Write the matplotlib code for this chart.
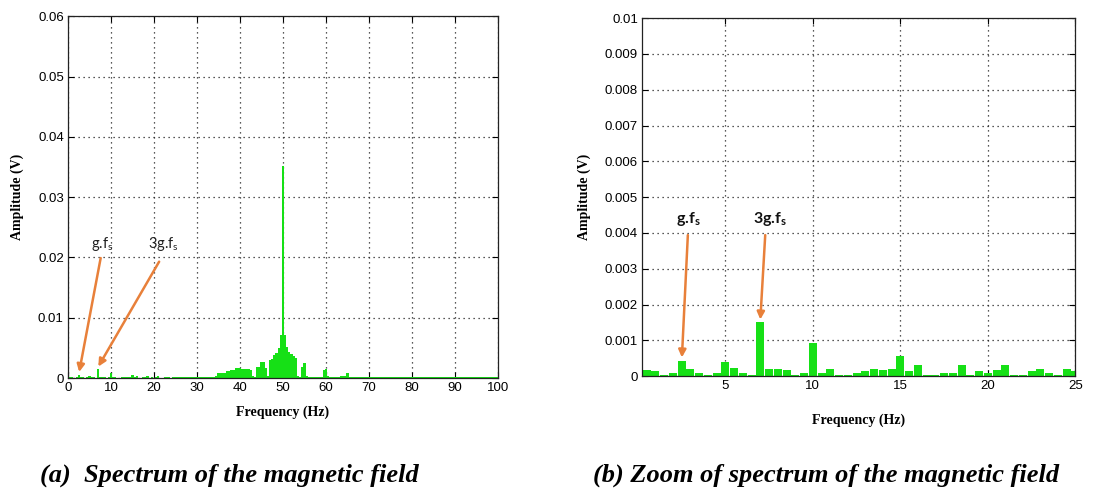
import numpy as np
import matplotlib.pyplot as plt

# spectrum bins (0.5 Hz resolution)
freq_low = np.arange(0.5, 25.01, 0.5)
amp_low = [0.00018, 0.00014, 0.00002, 0.00010, 0.00043, 0.00019, 0.00010, 0.00002, 0.00010, 0.00040,
           0.00022, 0.00010, 0.00002, 0.00152, 0.00019, 0.00021, 0.00017, 0.00002, 0.00010, 0.00092,
           0.00010, 0.00019, 0.00002, 0.00002, 0.00010, 0.00013, 0.00021, 0.00016, 0.00019, 0.00055,
           0.00014, 0.00030, 0.00002, 0.00002, 0.00010, 0.00010, 0.00030, 0.00002, 0.00013, 0.00008,
           0.00016, 0.00030, 0.00002, 0.00002, 0.00014, 0.00021, 0.00010, 0.00002, 0.00019, 0.00014]

freq_high = np.arange(25.5, 100.01, 0.5)
amp_high = [0.0002, 0.0001, 0.0001, 0.0002, 0.0001, 0.0001, 0.0002, 0.0001, 0.0002, 0.0001,
            0.0002, 0.0002, 0.0001, 0.0002, 0.0001, 0.0001, 0.0002, 0.0002, 0.0003, 0.0008,
            0.0008, 0.0009, 0.0009, 0.0012, 0.0012, 0.0014, 0.0014, 0.0017, 0.0016, 0.0017,
            0.0015, 0.0015, 0.0015, 0.0015, 0.0014, 0.0003, 0.0002, 0.0019, 0.0019, 0.0026,
            0.0026, 0.0017, 0.0003, 0.0030, 0.0031, 0.0039, 0.0041, 0.0050, 0.0071, 0.0352,
            0.0071, 0.0052, 0.0044, 0.0040, 0.0036, 0.0033, 0.0003, 0.0002, 0.0019, 0.0025,
            0.0003, 0.0001, 0.0002, 0.0002, 0.0001, 0.0002, 0.0001, 0.0002, 0.0014, 0.0015,
            0.0003, 0.0002, 0.0001, 0.0002, 0.0001, 0.0002, 0.0003, 0.0003, 0.0004, 0.0008,
            0.0002, 0.0001, 0.0001, 0.0002, 0.0001, 0.0002, 0.0001, 0.0001, 0.0002, 0.0001,
            0.0001, 0.0002, 0.0001, 0.0002, 0.0001, 0.0002, 0.0001, 0.0001, 0.0002, 0.0002,
            0.0001, 0.0002, 0.0001, 0.0001, 0.0002, 0.0001, 0.0002, 0.0002, 0.0001, 0.0001,
            0.0002, 0.0001, 0.0002, 0.0001, 0.0001, 0.0002, 0.0001, 0.0002, 0.0002, 0.0001,
            0.0001, 0.0002, 0.0001, 0.0002, 0.0001, 0.0002, 0.0001, 0.0001, 0.0002, 0.0001,
            0.0002, 0.0001, 0.0002, 0.0001, 0.0001, 0.0002, 0.0001, 0.0002, 0.0001, 0.0002,
            0.0001, 0.0001, 0.0002, 0.0001, 0.0002, 0.0001, 0.0002, 0.0001, 0.0001, 0.0002]

xticks_a = [0, 10, 20, 30, 40, 50, 60, 70, 80, 90, 100]
yticks_a = [0, 0.01, 0.02, 0.03, 0.04, 0.05, 0.06]
yticklabels_a = ['0', '0.01', '0.02', '0.03', '0.04', '0.05', '0.06']
xticks_b = [5, 10, 15, 20, 25]
yticks_b = [0, 0.001, 0.002, 0.003, 0.004, 0.005, 0.006, 0.007, 0.008, 0.009, 0.01]
yticklabels_b = ['0', '0.001', '0.002', '0.003', '0.004', '0.005', '0.006', '0.007', '0.008', '0.009', '0.01']

GREEN = '#16e016'
ORANGE = '#e8803a'
tickfont = ['Liberation Sans Narrow', 'Liberation Sans', 'DejaVu Sans']
serif = ['Liberation Serif', 'DejaVu Serif']

fig = plt.figure(figsize=(11.11, 4.91), dpi=100)
ax1 = fig.add_axes([0.0612, 0.230, 0.387, 0.737])
ax2 = fig.add_axes([0.578, 0.234, 0.390, 0.729])


def style(ax, xpad):
    ax.grid(True, linestyle=(0, (1, 3)), color='#222222', linewidth=0.9)
    ax.set_axisbelow(True)
    ax.tick_params(direction='in', top=True, right=True, length=4, width=0.8,
                   labelsize=9.5, pad=3)
    for lab in ax.get_xticklabels() + ax.get_yticklabels():
        lab.set_family(tickfont)
    for sp in ax.spines.values():
        sp.set_linewidth(0.9)
        sp.set_color('#222222')
    ax.set_xlabel('Frequency (Hz)', family=serif, fontweight='bold', fontsize=10, labelpad=xpad)
    ax.set_ylabel('Amplitude (V)', family=serif, fontweight='bold', fontsize=10, labelpad=10)


# (a) full spectrum
ax1.bar(freq_low, amp_low, width=0.5, color=GREEN, linewidth=0)
ax1.bar(freq_high, amp_high, width=0.5, color=GREEN, linewidth=0)
ax1.set_xlim(0, 100)
ax1.set_ylim(0, 0.06)
ax1.set_xticks(xticks_a)
ax1.set_yticks(yticks_a)
ax1.set_yticklabels(yticklabels_a)
style(ax1, 8)

arrow = dict(arrowstyle='-|>', color=ORANGE, lw=1.8, mutation_scale=11, shrinkA=0, shrinkB=0)
ax1.annotate('', xy=(2.6, 0.0010), xytext=(7.6, 0.0199), arrowprops=arrow)
ax1.annotate('', xy=(7.05, 0.0019), xytext=(21.2, 0.0193), arrowprops=arrow)
ax1.text(7.9, 0.0222, 'g.f$_\\mathregular{s}$', ha='center', va='center', fontsize=10.5,
         family='Lato', color='#222222')
ax1.text(22.1, 0.0222, '3g.f$_\\mathregular{s}$', ha='center', va='center', fontsize=10.5,
         family='Lato', color='#222222')

# (b) zoom on low frequencies
ax2.bar(freq_low, amp_low, width=0.46, color=GREEN, linewidth=0)
ax2.set_xlim(0.25, 25)
ax2.set_ylim(0, 0.01)
ax2.set_xticks(xticks_b)
ax2.set_yticks(yticks_b)
ax2.set_yticklabels(yticklabels_b)
style(ax2, 15)

ax2.annotate('', xy=(2.52, 0.00052), xytext=(2.86, 0.00394), arrowprops=arrow)
ax2.annotate('', xy=(7.0, 0.00158), xytext=(7.28, 0.00394), arrowprops=arrow)
ax2.text(2.88, 0.00438, 'g.f$_\\mathregular{s}$', ha='center', va='center', fontsize=11.5,
         family='Lato', fontweight='bold', color='#111111')
ax2.text(7.53, 0.00438, '3g.f$_\\mathregular{s}$', ha='center', va='center', fontsize=11.5,
         family='Lato', fontweight='bold', color='#111111')

# captions
fig.text(0.036, 0.019, '(a)  Spectrum of the magnetic field', family=serif,
         fontweight='bold', style='italic', fontsize=19, ha='left', va='baseline')
fig.text(0.534, 0.019, '(b) Zoom of spectrum of the magnetic field', family=serif,
         fontweight='bold', style='italic', fontsize=19, ha='left', va='baseline')

fig.savefig('out.png', dpi=100)
